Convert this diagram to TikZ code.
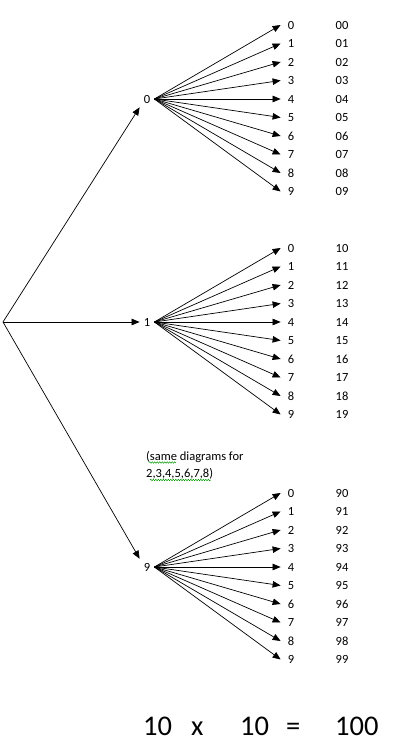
\documentclass[tikz,border=0pt]{standalone}
\usepackage{fontspec}
\setmainfont{Carlito}
\usetikzlibrary{arrows.meta,decorations.pathmorphing}
\begin{document}
\begin{tikzpicture}[x=1pt,y=-1pt,
  lbl/.style={font=\fontsize{12.5}{14}\selectfont, text=black},
  par/.style={lbl, inner sep=4pt},
  leaf/.style={lbl, inner xsep=7pt, inner ysep=1pt},
  res/.style={lbl, inner sep=1pt},
  arr/.style={-{Triangle[length=8pt,width=6.5pt]}, line width=0.7pt},
  note/.style={lbl, anchor=base west, inner sep=0pt},
  big/.style={font=\fontsize{28.5}{30}\selectfont, anchor=base west, inner sep=0pt},
  wavy/.style={draw=green!60!black, decorate, decoration={snake, amplitude=0.7pt, segment length=2.5pt}, line width=0.5pt}]
\useasboundingbox (0,0) rectangle (414,754);
\coordinate (root) at (3,322);
\foreach \p/\py/\pre in {0/99/0,1/322/1,9/567/9}{
  \node[par] (p\p) at (147,\py) {\p};
  \foreach \i in {0,...,9}{
    \node[leaf] (l\p\i) at (291,\py-74+18.5*\i) {\i};
    \node[res] (r\p\i) at (342,\py-74+18.5*\i) {\pre\i};
    \draw[arr] (p\p.east) -- (l\p\i.west);
  }
}
\draw[arr] (root) -- (p0.south west);
\draw[arr] (root) -- (p1.west);
\draw[arr] (root) -- (p9.north west);
\node[note] (n1) at (146,460) {(same diagrams for};
\node[note] (n2) at (146,477) {2,3,4,5,6,7,8)};
\draw[wavy] (149,462.5) -- (176,462.5);
\draw[wavy] (150,480) -- (211,480);
\node[big] (b1) at (143,735) {10};
\node[big] (b2) at (191,735) {x};
\node[big] (b3) at (240,735) {10};
\node[big] (b4) at (286,735) {=};
\node[big] (b5) at (335,735) {100};
\end{tikzpicture}
\end{document}
